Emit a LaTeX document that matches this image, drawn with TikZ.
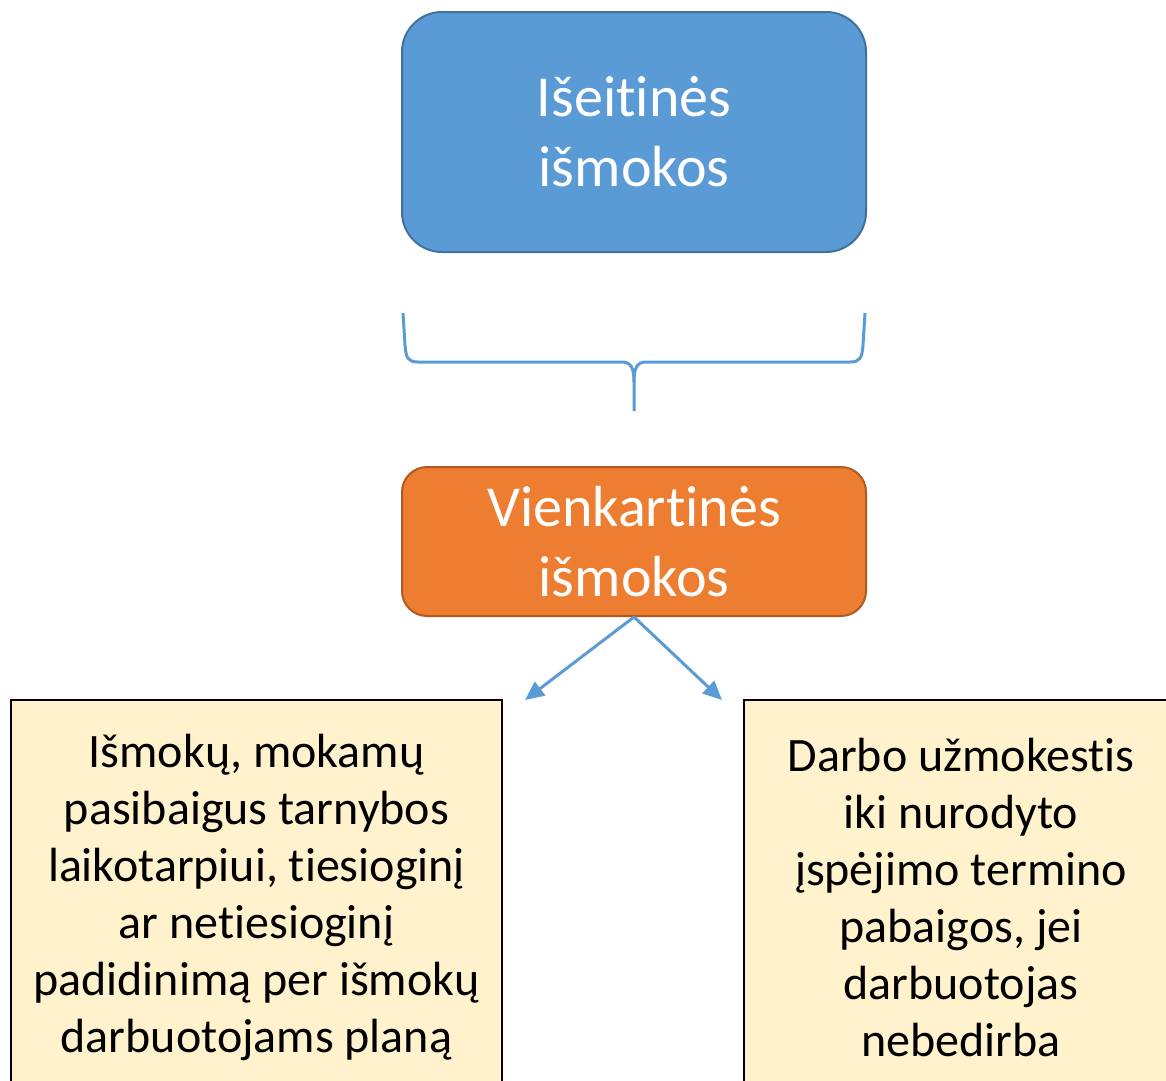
\documentclass[tikz,border=0pt]{standalone}
\usepackage{fontspec}
\setmainfont{Carlito}[Ligatures=NoCommon]
\usetikzlibrary{arrows.meta,positioning}
\definecolor{sbblue}{HTML}{5B9BD5}
\definecolor{sbblueline}{HTML}{41719C}
\definecolor{sborange}{HTML}{ED7D31}
\definecolor{sborangeline}{HTML}{AE5A21}
\definecolor{sbcream}{HTML}{FFF2CC}

\begin{document}
\begin{tikzpicture}[x=1pt,y=-1pt,
  topbox/.style={draw=sbblueline,fill=sbblue,line width=2pt,rounded corners=40pt,
              minimum width=464pt,minimum height=240pt,text=white,align=center,
              font=\fontsize{58}{70}\selectfont},
  midbox/.style={draw=sborangeline,fill=sborange,line width=2pt,rounded corners=25pt,
              minimum width=464pt,minimum height=149pt,text=white,align=center,
              font=\fontsize{58}{70}\selectfont},
  leafbox/.style={draw=black,fill=sbcream,line width=2.2pt,
              minimum height=394pt,align=center,inner sep=0pt,
              font=\fontsize{48}{57}\selectfont},
  brace/.style={draw=sbblue,line width=3pt},
  arrow/.style={-{Triangle[length=19pt,width=17pt]},draw=sbblue,line width=3pt}]
\useasboundingbox (0,0) rectangle (1166,1080);
\clip (0,0) rectangle (1166,1080);
\node[topbox] (exit) at (634,132) {Išeitinės\\išmokos};
\node[midbox] (once) at (634,541.5) {Vienkartinės\\išmokos};
\node[leafbox,minimum width=491pt] (plan) at (256.5,897)
  {Išmokų, mokamų\\pasibaigus tarnybos\\laikotarpiui, tiesioginį\\ar netiesioginį\\padidinimą per išmokų\\darbuotojams planą};
\node[leafbox,minimum width=434pt] (wage) at (961,897)
  {Darbo užmokestis\\iki nurodyto\\įspėjimo termino\\pabaigos, jei\\darbuotojas\\nebedirba};

% brace under the top box
\draw[brace] (403,313) -- (405,345) .. controls (406,358) and (408,362) .. (418,362)
  -- (622,362) .. controls (631,362) and (634,368) .. (634,382) -- (634,411);
\draw[brace] (865,313) -- (863,345) .. controls (862,358) and (860,362) .. (850,362)
  -- (646,362) .. controls (637,362) and (634,368) .. (634,382);

\coordinate (planin) at (525,700);
\coordinate (wagein) at (722,700);
\draw[arrow] (once.south) -- (planin);
\draw[arrow] (once.south) -- (wagein);
\end{tikzpicture}
\end{document}
